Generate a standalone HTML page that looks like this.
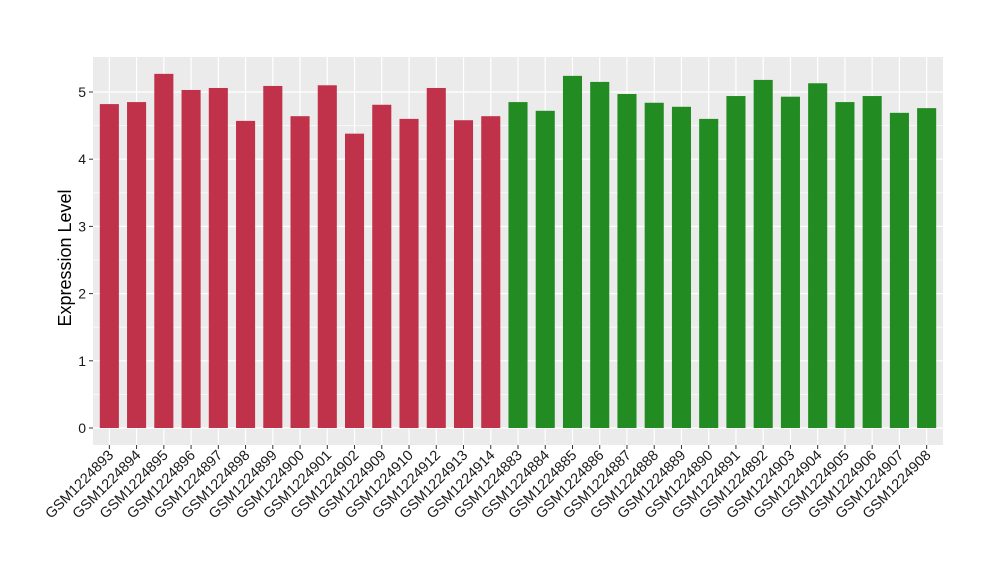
<!DOCTYPE html>
<html><head><meta charset="utf-8"><style>body{margin:0;background:#fff}svg{display:block;font-family:"Liberation Sans",sans-serif}</style></head>
<body>
<svg id="chart" width="1000" height="580" xmlns="http://www.w3.org/2000/svg"></svg>
<script>
const categories=["GSM1224893","GSM1224894","GSM1224895","GSM1224896","GSM1224897","GSM1224898","GSM1224899","GSM1224900","GSM1224901","GSM1224902","GSM1224909","GSM1224910","GSM1224912","GSM1224913","GSM1224914","GSM1224883","GSM1224884","GSM1224885","GSM1224886","GSM1224887","GSM1224888","GSM1224889","GSM1224890","GSM1224891","GSM1224892","GSM1224903","GSM1224904","GSM1224905","GSM1224906","GSM1224907","GSM1224908"];
const values=[4.82,4.85,5.27,5.03,5.06,4.57,5.09,4.64,5.10,4.38,4.81,4.60,5.06,4.58,4.64,4.85,4.72,5.24,5.15,4.97,4.84,4.78,4.60,4.94,5.18,4.93,5.13,4.85,4.94,4.69,4.76];
const groups=[0,0,0,0,0,0,0,0,0,0,0,0,0,0,0,1,1,1,1,1,1,1,1,1,1,1,1,1,1,1,1];
const yTicks=[0,1,2,3,4,5];
const colors=["#C0314A","#228B22"];
const svg=document.getElementById('chart');
const NS="http://www.w3.org/2000/svg";
const L=93,R=943,T=57,B=445;
const y=v=>428-v*67.2;
const step=(R-L)/(categories.length-1+1.2);
const x=i=>L+step*(0.6+i);
function mk(t,a,p){const e=document.createElementNS(NS,t);for(const k in a)e.setAttribute(k,a[k]);(p||svg).appendChild(e);return e;}
const bg=mk('rect',{x:L,y:T,width:R-L,height:B-T,fill:'#EBEBEB'});


for(let i=0;i<yTicks.length;i++){
  if(i<yTicks.length-1){const m=mk('line',{x1:L,x2:R,y1:y(yTicks[i]+0.5),y2:y(yTicks[i]+0.5),stroke:'#fff','stroke-width':0.6});
  }
  const g=mk('line',{x1:L,x2:R,y1:y(yTicks[i]),y2:y(yTicks[i]),stroke:'#fff','stroke-width':1.2});
  
  const tk=mk('line',{x1:L-4,x2:L,y1:y(yTicks[i]),y2:y(yTicks[i]),stroke:'#333'});
  
  const t=mk('text',{x:L-7,y:y(yTicks[i])+5,'text-anchor':'end','font-size':14,fill:'#1a1a1a'});
  t.textContent=yTicks[i];
  
}
categories.forEach((c,i)=>{
  const gl=mk('line',{x1:x(i),x2:x(i),y1:T,y2:B,stroke:'#fff','stroke-width':1.2});
  
});
const bw=step*0.7;
categories.forEach((c,i)=>{
  const b=mk('rect',{x:x(i)-bw/2,y:y(values[i]),width:bw,height:y(0)-y(values[i]),fill:colors[groups[i]]});
  
  const tk=mk('line',{x1:x(i),x2:x(i),y1:B,y2:B+4,stroke:'#333'});
  
  const t=mk('text',{x:x(i)+5,y:B+11,'text-anchor':'end','font-size':14.5,fill:'#1a1a1a',transform:`rotate(-45 ${x(i)+5} ${B+11})`});
  t.textContent=c;
  
});
const yl=mk('text',{x:71,y:(T+B)/2+7,'text-anchor':'middle','font-size':18,fill:'#000',transform:`rotate(-90 71 ${(T+B)/2+7})`});
yl.textContent='Expression Level';

</script>
</body></html>
